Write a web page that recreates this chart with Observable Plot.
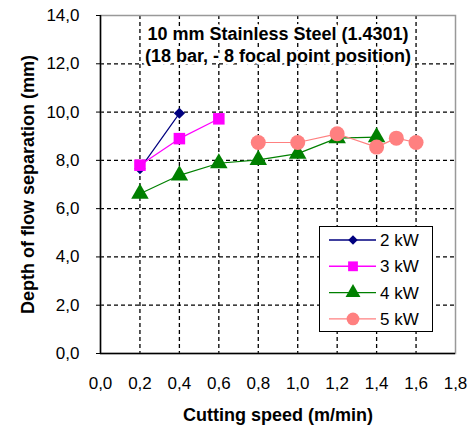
<!DOCTYPE html>
<html><head><meta charset="utf-8">
<script src="https://cdn.jsdelivr.net/npm/d3@7"></script>
<script src="https://cdn.jsdelivr.net/npm/@observablehq/plot@0.6"></script>
<style>
body{margin:0;background:#fff;font-family:"Liberation Sans",Arial,sans-serif}
#c{position:relative;width:471px;height:431px}
#legend{position:absolute;left:319px;top:226px;width:112px;height:104px;border:1.5px solid #000;background:#fff}
</style>
</head><body><div id="c"><div id="legend"></div></div>
<script>
const seriesNames = ["2 kW", "3 kW", "4 kW", "5 kW"];
const seriesColors = ["#00007f", "#ff00ff", "#008000", "#ff8080"];
const seriesSymbols = ["diamond2", "square", "triangle", "circle"];
const seriesR = [5, 6.5, 6.5, 7.5];

const speed2kW = [0.2, 0.4];
const depth2kW = [7.65, 9.95];
const speed3kW = [0.2, 0.4, 0.6];
const depth3kW = [7.8, 8.9, 9.72];
const speed4kW = [0.2, 0.4, 0.6, 0.8, 1.0, 1.2, 1.4];
const depth4kW = [6.62, 7.38, 7.88, 8.02, 8.28, 8.92, 8.96];
const speed5kW = [0.8, 1.0, 1.2, 1.4, 1.5, 1.6];
const depth5kW = [8.74, 8.74, 9.1, 8.55, 8.92, 8.74];

const xTicks = [0, 0.2, 0.4, 0.6, 0.8, 1.0, 1.2, 1.4, 1.6, 1.8];
const yTicks = [0, 2, 4, 6, 8, 10, 12, 14];
const titleLines = ["10 mm Stainless Steel (1.4301)", "(18 bar, - 8 focal point position)"];
const xLabel = "Cutting speed (m/min)";
const yLabel = "Depth of flow separation (mm)";

const speeds = [speed2kW, speed3kW, speed4kW, speed5kW];
const depths = [depth2kW, depth3kW, depth4kW, depth5kW];
const data = seriesNames.flatMap((s, i) => speeds[i].map((x, j) => ({series: s, x, y: depths[i][j]})));

const fmt = d => d.toFixed(1).replace(".", ",");
const font = '"Liberation Sans", Arial, sans-serif';

const lineMarks = seriesNames.map((s, i) =>
  Plot.line(data.filter(d => d.series === s), {x: "x", y: "y", stroke: seriesColors[i], strokeWidth: 1.2})
);
const dotMarks = seriesNames.map((s, i) =>
  Plot.dot(data.filter(d => d.series === s), {x: "x", y: "y", fill: seriesColors[i], symbol: seriesSymbols[i], r: seriesR[i], stroke: "none"})
);

const chart = Plot.plot({
  width: 471, height: 431,
  marginLeft: 100, marginRight: 16, marginTop: 15, marginBottom: 78,
  style: {fontFamily: font, fontSize: "17px", color: "#000", background: "#fff"},
  x: {domain: [0, 1.8]},
  y: {domain: [0, 14]},
  marks: [
    Plot.gridX(xTicks.slice(1, -1), {stroke: "#000", strokeOpacity: 1, strokeWidth: 1.3, strokeDasharray: "4,3"}),
    Plot.gridY(yTicks.slice(1, -1), {stroke: "#000", strokeOpacity: 1, strokeWidth: 1.3, strokeDasharray: "4,3"}),
    Plot.frame({stroke: "#999", strokeWidth: 1.5}),
    Plot.ruleX([0], {stroke: "#000", strokeWidth: 1.5}),
    Plot.ruleY([0], {stroke: "#000", strokeWidth: 1.5}),
    Plot.axisX(xTicks, {tickSize: 0, tickPadding: 23, tickFormat: fmt, label: null, fontSize: 17}),
    Plot.axisY(yTicks, {tickSize: 4, tickPadding: 17, tickFormat: fmt, label: null, fontSize: 17}),
    Plot.text([xLabel], {frameAnchor: "bottom", dy: 62, lineAnchor: "middle", fontWeight: "bold", fontSize: 18}),
    Plot.text([yLabel], {frameAnchor: "left", dx: -72, rotate: -90, textAnchor: "middle", lineAnchor: "middle", fontWeight: "bold", fontSize: 18}),
    Plot.text([titleLines[0]], {frameAnchor: "top", dy: 19, lineAnchor: "middle", fontWeight: "bold", fontSize: 18, stroke: "white", strokeWidth: 6, fill: "#000"}),
    Plot.text([titleLines[1]], {frameAnchor: "top", dy: 41, lineAnchor: "middle", fontWeight: "bold", fontSize: 18, stroke: "white", strokeWidth: 6, fill: "#000"}),
    ...lineMarks,
    ...dotMarks
  ]
});
document.getElementById("c").prepend(chart);

// legend
const lg = d3.select("#legend").append("svg").attr("width", 112).attr("height", 104);
const symMap = {diamond2: d3.symbolDiamond2, square: d3.symbolSquare, triangle: d3.symbolTriangle, circle: d3.symbolCircle};
seriesNames.forEach((s, i) => {
  const cy = 13 + i * 26.3;
  const g = lg.append("g").attr("transform", `translate(0,${cy})`);
  g.append("line").attr("x1", 9).attr("x2", 56).attr("y1", 0).attr("y2", 0).attr("stroke", seriesColors[i]).attr("stroke-width", 1.4);
  const r = seriesR[i] * 0.85;
  g.append("path").attr("transform", "translate(33,0)").attr("d", d3.symbol(symMap[seriesSymbols[i]], r * r * Math.PI)()).attr("fill", seriesColors[i]);
  g.append("text").attr("x", 60).attr("y", 0).attr("dy", "0.35em").attr("font-size", 17).attr("font-family", font).text(s);
});
</script>
</body></html>
